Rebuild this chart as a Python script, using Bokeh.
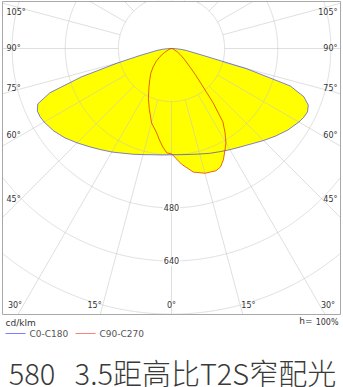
import numpy as np
from bokeh.plotting import figure
from bokeh.models import Range1d
from bokeh.core.properties import value
from bokeh.embed import file_html
from bokeh.resources import INLINE

# ---------------- data (cd/klm vs gamma, degrees from nadir) ----------------
gamma_c0 = [0, 5, 10, 15, 20, 25, 30, 35, 40, 45, 50, 55, 60, 62.5, 65, 67.5, 70, 72.5, 75, 77.5, 80, 82.5, 85, 87.5, 90]
cd_c0 = [320, 321, 324, 329, 336, 343, 352, 362, 375, 392, 410, 428, 443, 449, 452, 446, 424, 375, 232, 100, 62, 45, 28, 12, 0]
gamma_c180 = [0, 5, 10, 15, 20, 25, 30, 35, 40, 45, 50, 55, 60, 62.5, 65, 67.5, 70, 72.5, 75, 77.5, 80, 82.5, 85, 87.5, 90]
cd_c180 = [320, 322, 325, 331, 339, 348, 360, 372, 386, 402, 419, 433, 443, 446, 446, 436, 390, 285, 168, 97, 60, 44, 28, 12, 0]
gamma_c90 = [0, 5, 10, 15, 20, 22.5, 25, 27.5, 30, 32.5, 35, 37.5, 40, 42.5, 45, 50, 55, 60, 70, 80, 90]
cd_c90 = [317, 350, 378, 389, 392, 386, 370, 348, 328, 300, 270, 205, 140, 105, 78, 50, 32, 20, 6, 0, 0]
gamma_c270 = [0, 2.5, 5, 7.5, 10, 15, 20, 25, 30, 35, 40, 45, 50, 55, 60, 70, 80, 90]
cd_c270 = [317, 315, 298, 278, 258, 232, 195, 165, 136, 114, 97, 78, 60, 42, 25, 8, 0, 0]

ring_values = [160, 320, 480, 640, 800]
ring_label_values = [480, 640]
radial_angles = list(range(0, 360, 15))
side_angles = [105, 90, 75, 60, 45]
bottom_angles = [30, 15, 0]
title_text = "580\u00a0\u00a0\u00a03.5距高比T2S窄配光"
legend_names = ["C0-C180", "C90-C270"]
legend_colors = ["#0000ff", "#ff0000"]
unit_text = "cd/klm"
h_label = "h="
h_value = "100%"

# ---------------- layout constants (pixels) ----------------
W, H = 343, 387
CX, CY = 171.0, 48.0          # pole position
S = 0.332                      # pixels per cd/klm
BOX_L, BOX_R, BOX_T, BOX_B = 2.0, 340.0, 1.0, 314.0


def dx(px):
    return (px - CX) / S


def dy(py):
    return (CY - py) / S


p = figure(width=W, height=H, output_backend="svg", toolbar_location=None,
           x_range=Range1d(dx(0), dx(W)), y_range=Range1d(dy(H), dy(0)),
           min_border=0, min_border_left=0, min_border_right=0,
           min_border_top=0, min_border_bottom=0, title=None)
p.xaxis.visible = False
p.yaxis.visible = False
p.xgrid.visible = False
p.ygrid.visible = False
p.outline_line_color = None
p.background_fill_color = "white"
p.border_fill_color = "white"

xmin, xmax, ymin, ymax = dx(BOX_L), dx(BOX_R), dy(BOX_B), dy(BOX_T)


def polar(gam, cd, side):
    g = np.radians(np.asarray(gam, float))
    r = np.asarray(cd, float)
    return side * r * np.sin(g), -r * np.cos(g)


# curves
x0, y0 = polar(gamma_c0, cd_c0, 1)
x180, y180 = polar(gamma_c180, cd_c180, -1)
wide_x = np.concatenate([x180[::-1], x0])
wide_y = np.concatenate([y180[::-1], y0])
x90, y90 = polar(gamma_c90, cd_c90, 1)
x270, y270 = polar(gamma_c270, cd_c270, -1)
nar_x = np.concatenate([x270[::-1], x90])
nar_y = np.concatenate([y270[::-1], y90])

p.patch(wide_x, wide_y, fill_color="#ffff00", line_color=None)
p.patch(nar_x, nar_y, fill_color="#ffff00", line_color=None)

# grid: rings clipped to box
gxs, gys = [], []
phi = np.radians(np.arange(0, 360.25, 0.25))
for rv in ring_values:
    xs = rv * np.cos(phi)
    ys = rv * np.sin(phi)
    inside = (xs >= xmin) & (xs <= xmax) & (ys >= ymin) & (ys <= ymax)
    seg_x, seg_y = [], []
    for xi, yi, ok in zip(xs, ys, inside):
        if ok:
            seg_x.append(xi)
            seg_y.append(yi)
        elif seg_x:
            gxs.append(seg_x)
            gys.append(seg_y)
            seg_x, seg_y = [], []
    if seg_x:
        gxs.append(seg_x)
        gys.append(seg_y)

# radial lines from first ring to box edge
for a in radial_angles:
    g = np.radians(a)
    ux, uy = np.sin(g), -np.cos(g)
    ts = []
    if ux > 1e-9:
        ts.append(xmax / ux)
    if ux < -1e-9:
        ts.append(xmin / ux)
    if uy > 1e-9:
        ts.append(ymax / uy)
    if uy < -1e-9:
        ts.append(ymin / uy)
    t = min(ts)
    r0 = ring_values[0]
    gxs.append([r0 * ux, t * ux])
    gys.append([r0 * uy, t * uy])

p.multi_line(gxs, gys, line_color="#c4c4c4", line_alpha=0.55, line_width=1)

# outlines
p.line(wide_x, wide_y, line_color=legend_colors[0], line_alpha=0.5, line_width=1)
p.line(nar_x, nar_y, line_color="#e03000", line_alpha=0.75, line_width=1)

# box
p.line([xmin, xmax, xmax, xmin, xmin], [ymax, ymax, ymin, ymin, ymax],
       line_color="#a8a8a8", line_width=1)

small = dict(text_font=value("DejaVu Sans"), text_font_size="8px", text_color="#333333")

# ring labels
p.text(x=[0] * len(ring_label_values), y=[-v for v in ring_label_values],
       text=[str(v) for v in ring_label_values], text_align="center",
       text_baseline="middle", background_fill_color="white", padding=1, **small)

# side angle labels
lx, ly, rx, ry, lt = [], [], [], [], []
for a in side_angles:
    g = np.radians(a)
    t = (CX - 20) / np.sin(g)
    py = max(CY + t * np.cos(g), 12)
    lx.append(dx(6)); ly.append(dy(py))
    rx.append(dx(337)); ry.append(dy(py))
    lt.append(f"{a}°")
p.text(x=lx, y=ly, text=lt, text_align="left", text_baseline="middle", **small)
p.text(x=rx, y=ry, text=lt, text_align="right", text_baseline="middle", **small)

# bottom angle labels
PYB = 305
for a in bottom_angles:
    off = (PYB - CY) * np.tan(np.radians(a))
    if a == 0:
        p.text(x=[dx(CX)], y=[dy(PYB)], text=["0°"], text_align="center", text_baseline="middle", **small)
    else:
        p.text(x=[dx(CX - off - 1)], y=[dy(PYB)], text=[f"{a}°"], text_align="right", text_baseline="middle", **small)
        p.text(x=[dx(CX + off + 1)], y=[dy(PYB)], text=[f"{a}°"], text_align="left", text_baseline="middle", **small)

# footer texts
p.text(x=[dx(5)], y=[dy(322)], text=[unit_text], text_align="left", text_baseline="middle",
       text_font=value("DejaVu Sans"), text_font_size="9px", text_color="#333333")
p.text(x=[dx(312)], y=[dy(320)], text=[h_label], text_align="right", text_baseline="middle",
       text_font=value("DejaVu Sans"), text_font_size="9px", text_color="#333333")
p.text(x=[dx(338)], y=[dy(322)], text=[h_value], text_align="right", text_baseline="middle",
       text_font=value("DejaVu Sans"), text_font_size="8px", text_color="#333333")

# legend
leg_x0 = [5, 75]
for i, (name, col) in enumerate(zip(legend_names, legend_colors)):
    p.line([dx(leg_x0[i]), dx(leg_x0[i] + 20)], [dy(333), dy(333)], line_color=col, line_alpha=0.5, line_width=1)
    p.text(x=[dx(leg_x0[i] + 24)], y=[dy(333)], text=[name], text_align="left", text_baseline="middle",
           text_font=value("DejaVu Sans"), text_font_size="9px", text_color="#555555")

# title
p.text(x=[dx(172)], y=[dy(371)], text=[title_text], text_align="center", text_baseline="middle",
       text_font=value("Noto Sans CJK SC Light"), text_font_size="29px", text_color="#3a3a3a")

open("out.html", "w").write(file_html(p, INLINE))
